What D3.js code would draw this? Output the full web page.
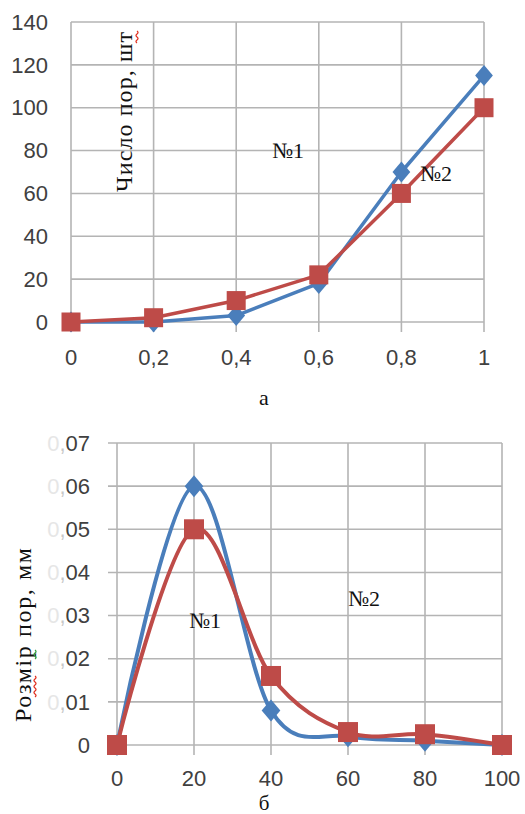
<!DOCTYPE html>
<html><head><meta charset="utf-8">
<script src="https://cdn.jsdelivr.net/npm/d3@7"></script>
<style>body{margin:0;background:#fff}svg{display:block}</style>
</head><body><svg id="c" width="525" height="814"></svg>
<script>
// ---- data ----
const topX = [0, 0.2, 0.4, 0.6, 0.8, 1];
const topSeries1 = [0, 0, 3, 18, 70, 115];     // №1 (blue, diamonds)
const topSeries2 = [0, 2, 10, 22, 60, 100];    // №2 (red, squares)
const topYTicks = [0, 20, 40, 60, 80, 100, 120, 140];
const topXTickLabels = ["0", "0,2", "0,4", "0,6", "0,8", "1"];

const botX = [0, 20, 40, 60, 80, 100];
const botSeries1 = [0, 0.06, 0.008, 0.002, 0.001, 0];
const botSeries2 = [0, 0.05, 0.016, 0.003, 0.0025, 0];
const botYTicks = [0, 0.01, 0.02, 0.03, 0.04, 0.05, 0.06, 0.07];
const botXTickLabels = ["0", "20", "40", "60", "80", "100"];

const BLUE = "#4a7ebb", RED = "#be4b48", GRID = "#b4b4b4", TXT = "#404040";
const svg = d3.select("#c");

function diamond(g, x, y, s, c) {
  g.append("path").attr("d", `M${x},${y - s}L${x + s * 0.85},${y}L${x},${y + s}L${x - s * 0.85},${y}Z`).attr("fill", c);
}

function chart(opt) {
  const g = svg.append("g");
  const x = d3.scaleLinear().domain(opt.xd).range(opt.xr);
  const y = d3.scaleLinear().domain(opt.yd).range(opt.yr);
  g.selectAll(".hg").data(opt.yTicks).join("line")
    .attr("x1", opt.xr[0] - opt.tickL).attr("x2", opt.xr[1])
    .attr("y1", d => y(d)).attr("y2", d => y(d))
    .attr("stroke", GRID).attr("stroke-width", 1.6);
  g.selectAll(".vg").data(opt.xVals).join("line")
    .attr("x1", d => x(d)).attr("x2", d => x(d))
    .attr("y1", opt.yr[1]).attr("y2", opt.yr[0] + 10)
    .attr("stroke", GRID).attr("stroke-width", 1.6);
  const yl = g.selectAll(".yl").data(opt.yTicks).join("text")
    .attr("x", opt.yLabX).attr("y", d => y(d)).attr("dy", "0.35em")
    .attr("text-anchor", "end").attr("font-family", "Liberation Sans, Arial, sans-serif")
    .attr("font-size", 22).attr("fill", TXT);
  yl.each(function (d) { opt.yFmt(d3.select(this), d); });
  g.selectAll(".xl").data(opt.xVals).join("text")
    .attr("x", d => x(d)).attr("y", opt.xLabY).attr("dy", "0.35em")
    .attr("text-anchor", "middle").attr("font-family", "Liberation Sans, Arial, sans-serif")
    .attr("font-size", 22).attr("fill", TXT)
    .text((d, i) => opt.xLabels[i]);
  const line = d3.line().x(d => x(d[0])).y(d => y(d[1])).curve(opt.curve);
  [[opt.s1, BLUE], [opt.s2, RED]].forEach(([s, c]) => {
    g.append("path").attr("d", line(opt.xVals.map((v, i) => [v, s[i]])))
      .attr("fill", "none").attr("stroke", c).attr("stroke-width", opt.lw).attr("stroke-linejoin", "round");
  });
  opt.xVals.forEach((v, i) => diamond(g, x(v), y(opt.s1[i]), opt.ms * 0.55, BLUE));
  g.selectAll(".sq").data(opt.xVals).join("rect")
    .attr("x", d => x(d) - opt.ms / 2).attr("y", (d, i) => y(opt.s2[i]) - opt.ms / 2)
    .attr("width", opt.ms).attr("height", opt.ms).attr("fill", RED);
  return g;
}

const serif = "Liberation Serif, Times New Roman, serif";

// ---- top chart ----
chart({
  xd: [0, 1], xr: [71, 484], yd: [0, 140], yr: [322, 22],
  xVals: topX, yTicks: topYTicks, xLabels: topXTickLabels,
  s1: topSeries1, s2: topSeries2, tickL: 0,
  yLabX: 48, xLabY: 357, lw: 3.5, ms: 19,
  curve: d3.curveLinear,
  yFmt: (t, d) => t.text(d)
});
svg.append("text").attr("transform", "translate(132,112) rotate(-90)")
  .attr("text-anchor", "middle").attr("font-family", serif).attr("font-size", 24)
  .attr("textLength", 160).attr("fill", "#111").text("Число пор, шт");
svg.append("path").attr("d", "M137,31 q2,1.5 0,3 q-2,1.5 0,3 q2,1.5 0,3 q-2,1.5 0,3")
  .attr("fill", "none").attr("stroke", "#e03020").attr("stroke-width", 1.3);
svg.append("text").attr("x", 288).attr("y", 150).attr("dy", "0.35em").attr("text-anchor", "middle")
  .attr("font-family", serif).attr("font-size", 22).attr("fill", "#111").text("№1");
svg.append("text").attr("x", 436).attr("y", 173).attr("dy", "0.35em").attr("text-anchor", "middle")
  .attr("font-family", serif).attr("font-size", 22).attr("fill", "#111").text("№2");
svg.append("text").attr("x", 264).attr("y", 397).attr("dy", "0.35em").attr("text-anchor", "middle")
  .attr("font-family", serif).attr("font-size", 22).attr("fill", "#111").text("а");

// ---- bottom chart ----
chart({
  xd: [0, 100], xr: [117, 502], yd: [0, 0.07], yr: [745, 443],
  xVals: botX, yTicks: botYTicks, xLabels: botXTickLabels,
  s1: botSeries1, s2: botSeries2, tickL: 9,
  yLabX: 90, xLabY: 778, lw: 4, ms: 20,
  curve: d3.curveCardinal.tension(0),
  yFmt: (t, d) => {
    if (d === 0) { t.text("0"); return; }
    const s = d3.format(".2f")(d).replace(".", ",");
    t.append("tspan").attr("fill", "#e6e6e6").text(s.slice(0, 1));
    t.append("tspan").attr("fill", "#c8c8c8").text(s.slice(1, 2));
    t.append("tspan").attr("fill", TXT).text(s.slice(2));
  }
});
svg.append("text").attr("transform", "translate(31,635) rotate(-90)")
  .attr("text-anchor", "middle").attr("font-family", serif).attr("font-size", 24)
  .attr("textLength", 174).attr("fill", "#111").text("Розмір пор, мм");
svg.append("path").attr("d", "M35,676 q2,1.5 0,3 q-2,1.5 0,3 q2,1.5 0,3 q-2,1.5 0,3 q2,1.5 0,3 q-2,1.5 0,3 q2,1.5 0,3")
  .attr("fill", "none").attr("stroke", "#e03020").attr("stroke-width", 1.3);
svg.append("path").attr("d", "M35,650 q2,1.5 0,3 q-2,1.5 0,3 q2,1.5 0,3")
  .attr("fill", "none").attr("stroke", "#30a040").attr("stroke-width", 1.3);
svg.append("text").attr("x", 205).attr("y", 620).attr("dy", "0.35em").attr("text-anchor", "middle")
  .attr("font-family", serif).attr("font-size", 22).attr("fill", "#111").text("№1");
svg.append("text").attr("x", 364).attr("y", 598).attr("dy", "0.35em").attr("text-anchor", "middle")
  .attr("font-family", serif).attr("font-size", 22).attr("fill", "#111").text("№2");
svg.append("text").attr("x", 264).attr("y", 810).attr("text-anchor", "middle")
  .attr("font-family", serif).attr("font-size", 21).attr("fill", "#111").text("б");
</script></body></html>
